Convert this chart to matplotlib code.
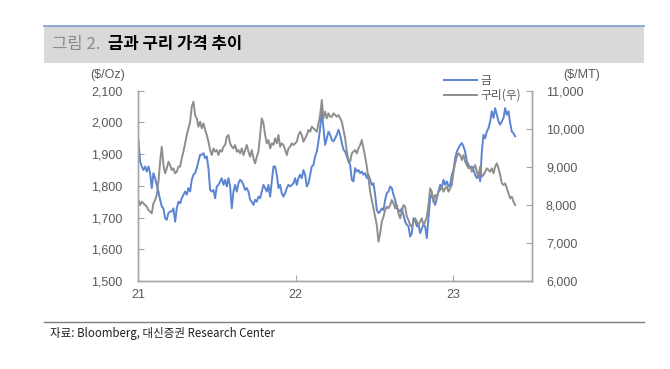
import numpy as np
import pandas as pd
import matplotlib
matplotlib.use("Agg")
from matplotlib import pyplot as plt
from matplotlib.patches import Rectangle
from matplotlib.lines import Line2D

plt.rcParams["font.family"] = ["Liberation Sans", "Noto Sans CJK KR"]

# gold, $/Oz (left axis), evenly spaced from 2021-01 to 2023-05
gold = [
    1945, 1877, 1861, 1850, 1861, 1845, 1861, 1840, 1793, 1840,
    1824, 1803, 1782, 1756, 1735, 1729, 1698, 1693, 1714, 1719,
    1719, 1729, 1687, 1729, 1750, 1745, 1761, 1772, 1782, 1772,
    1793, 1782, 1819, 1835, 1840, 1856, 1877, 1898, 1898, 1903,
    1887, 1893, 1856, 1787, 1782, 1787, 1761, 1798, 1803, 1814,
    1824, 1803, 1819, 1798, 1824, 1798, 1729, 1782,
    1803, 1782, 1808, 1819, 1814, 1803, 1787, 1793, 1782, 1756,
    1750, 1740, 1756, 1750, 1766, 1761, 1782, 1803, 1793, 1782,
    1803, 1766, 1814, 1861, 1861, 1835, 1793, 1803, 1777, 1766,
    1777, 1793, 1803, 1798, 1803, 1808, 1824, 1803, 1824, 1835,
    1824, 1850, 1835, 1798, 1808, 1835, 1861, 1866, 1893, 1908,
    1940, 1982, 2035, 1982, 1929, 1950, 1971, 1961,
    1945, 1940, 1950, 1961, 1977, 1961, 1935, 1914, 1908, 1893,
    1877, 1866, 1819, 1814, 1856, 1845, 1850, 1840, 1845, 1835,
    1840, 1824, 1835, 1819, 1803, 1808, 1772, 1724, 1714, 1719,
    1729, 1724, 1756, 1777, 1782, 1798, 1793, 1772, 1756, 1729,
    1724, 1719, 1729, 1708, 1687, 1677, 1672, 1640, 1651, 1698,
    1693, 1672, 1677, 1651, 1666, 1677, 1672,
    1635, 1700, 1760, 1775, 1751, 1740, 1761, 1782, 1803, 1793,
    1819, 1803, 1814, 1798, 1803, 1835, 1850, 1887, 1908, 1919,
    1929, 1935, 1924, 1908, 1877, 1866, 1856, 1861, 1850, 1835,
    1824, 1840, 1814, 1908, 1961, 1950, 1971, 1982, 2003, 2035,
    2014, 2045, 2024, 2003, 1993, 2003, 2014, 2045, 2024, 2035,
    1998, 1971, 1966, 1956,
]

# copper, $/MT (right axis)
copper = [
    8128, 7997, 8084, 8040, 7997, 7953, 7865, 7821, 7778, 8040,
    8128, 8259, 8610, 9135, 9529, 9047, 8829, 8960, 9135, 9047,
    8916, 8960, 8829, 8872, 9004, 9004, 9223, 9398, 9617, 9836,
    10011, 10186, 10580, 10711, 10361, 10273, 10054, 10186, 10011, 10142,
    9967, 9836, 9660, 9441, 9310, 9485, 9398, 9441, 9310, 9441,
    9398, 9529, 9573, 9792, 9836, 9617, 9529, 9485,
    9573, 9398, 9441, 9354, 9485, 9310, 9441, 9573, 9398, 9266,
    9441, 9223, 9091, 9266, 9398, 9836, 10273, 10142, 9836, 9617,
    9704, 9485, 9617, 9573, 9748, 9617, 9836, 9529, 9617, 9573,
    9441, 9310, 9485, 9529, 9617, 9573, 9617, 9660, 9836, 9923,
    9836, 9660, 9748, 9836, 9967, 9923, 10054, 10011, 9967, 9923,
    10142, 10361, 10755, 10273, 10449, 10273, 10405, 10317,
    10317, 10405, 10361, 10317, 10361, 10273, 10186, 9967, 9748, 9398,
    9179, 9135, 9354, 9398, 9441, 9354, 9485, 9573, 9704, 9485,
    9266, 9004, 8697, 8347, 8128, 7909, 7690, 7471, 7033, 7252,
    7559, 7690, 7865, 7953, 7909, 7997, 8128, 8040, 7909, 7997,
    7778, 7646, 7821, 7997, 7953, 7690, 7603, 7471, 7427, 7559,
    7646, 7559, 7471, 7559, 7646, 7471, 7559,
    7690, 7997, 8434, 8347, 8084, 8259, 8215, 8347, 8391, 8478,
    8347, 8434, 8478, 8347, 8434, 8522, 8872, 9091, 9266, 9354,
    9310, 9179, 9310, 9135, 9047, 8960, 9004, 8872, 8960, 9047,
    8872, 8741, 9004, 8741, 8785, 8872, 8960, 8916, 8872, 8960,
    8829, 9004, 9091, 8960, 8785, 8566, 8522, 8566, 8434, 8303,
    8172, 8215, 8080, 8000,
]

dates = pd.date_range("2021-01-02", "2023-05-25", periods=len(gold))
year_ticks = pd.to_datetime(["2021-01-01", "2022-01-01", "2023-01-01"])
year_labels = ["21", "22", "23"]
gold_ticks = np.arange(1500, 2101, 100)
copper_ticks = np.arange(6000, 11001, 1000)

BLUE = "#5B84D2"
GREY = "#8E8E8E"
TXT = "#595959"
AX = "#A6A6A6"

fig = plt.figure(figsize=(6.7, 3.69), dpi=100)
W, H = 670, 369

# header band
fig.patches.append(Rectangle((44 / W, 1 - 63 / H), 600 / W, 37 / H, transform=fig.transFigure,
                             facecolor="#D9D9D9", edgecolor="none", zorder=0))
fig.add_artist(Line2D([44 / W, 644 / W], [1 - 26 / H] * 2, color="#7F9BD0", lw=1.2))
fig.text(52 / W, 1 - 44 / H, "그림 2.", fontsize=12, color="#8C8C8C", va="center",
         family=["Noto Sans CJK KR"])
fig.text(108 / W, 1 - 44 / H, "금과 구리 가격 추이", fontsize=12, color="#000000", va="center",
         weight="bold", family=["Noto Sans CJK KR"])

# footer
fig.add_artist(Line2D([44 / W, 644 / W], [1 - 322 / H] * 2, color="#7F7F7F", lw=1.0))
fig.text(50 / W, 1 - 334 / H, "자료: Bloomberg, 대신증권 Research Center", fontsize=8.3,
         color="#222222", va="center", family=["Noto Sans CJK KR"])

ax = fig.add_axes([138 / W, 1 - 281 / H, (532 - 138) / W, (281 - 90.7) / H])
ax2 = ax.twinx()

ax.plot(dates, gold, color=BLUE, lw=1.4, label="금")
ax2.plot(dates, copper, color=GREY, lw=1.4, label="구리(우)")

ax.set_xlim(pd.Timestamp("2021-01-01"), pd.Timestamp("2023-07-03"))
ax.set_ylim(1500, 2100)
ax2.set_ylim(6000, 11000)
ax.set_xticks(year_ticks)
ax.set_xticklabels(year_labels)
ax.set_yticks(gold_ticks)
ax.set_yticklabels([f"{v:,}" for v in gold_ticks])
ax2.set_yticks(copper_ticks)
ax2.set_yticklabels([f"{v:,}" for v in copper_ticks])

for a in (ax, ax2):
    a.spines["top"].set_visible(False)
    for s in ("left", "right", "bottom"):
        a.spines[s].set_color(AX)
        a.spines[s].set_linewidth(1.0)
    a.tick_params(direction="in", length=4, color=AX, labelcolor=TXT, labelsize=9)
ax.tick_params(axis="y", pad=11)
ax.tick_params(axis="x", pad=6)
ax2.tick_params(axis="y", pad=10)

fig.text(125 / W, 1 - 75 / H, "($/Oz)", fontsize=9, color=TXT, ha="right", va="center")
fig.text(563 / W, 1 - 75 / H, "($/MT)", fontsize=9, color=TXT, ha="left", va="center")

handles = [Line2D([], [], color=BLUE, lw=1.4), Line2D([], [], color=GREY, lw=1.4)]
fig.legend(handles, ["금", "구리(우)"], loc="upper left", bbox_to_anchor=(438 / W, 1 - 68 / H),
           frameon=False, handlelength=2.8, handletextpad=0.3, labelspacing=0.15,
           borderpad=0, labelcolor=TXT, prop={"family": ["Noto Sans CJK KR"], "size": 8.5})

fig.savefig("out.png", dpi=100)
